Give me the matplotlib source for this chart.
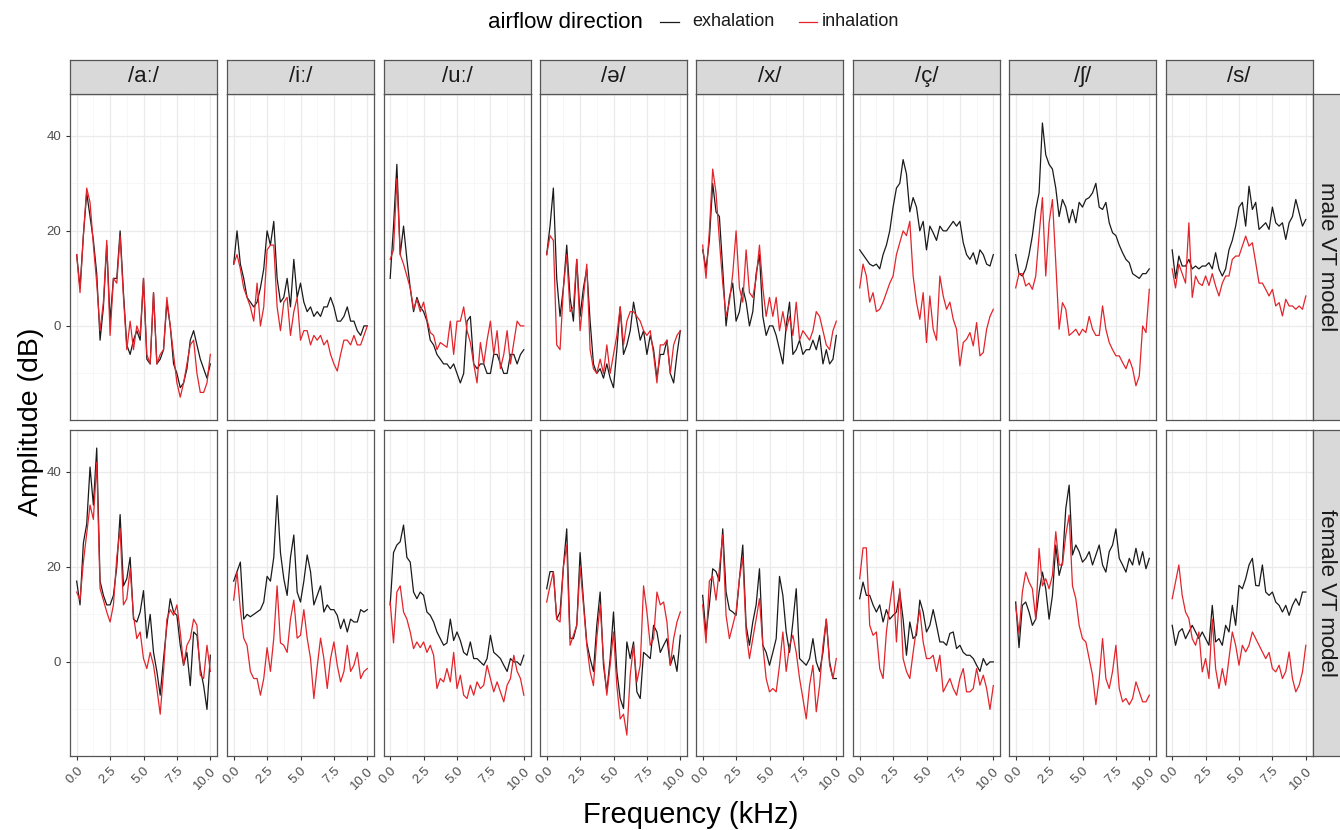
import numpy as np
import matplotlib
matplotlib.use('Agg')
import matplotlib.pyplot as plt
from matplotlib.lines import Line2D
from matplotlib.ticker import MultipleLocator

plt.rcParams['font.family'] = ['Liberation Sans', 'DejaVu Sans']

# frequency grid (kHz)
freq = np.linspace(0, 10, 41)

phonemes = ['/aː/', '/iː/', '/uː/', '/ə/', '/x/', '/ç/', '/ʃ/', '/s/']
models = ['male VT model', 'female VT model']

# male VT model, exhalation / inhalation (dB)
male_a_exh = [15, 8, 19, 28, 23, 18, 11, -3, 4, 17, 1, 10, 10, 20, 7, -4, -6, -3, -1, -3, 10, -7, -8, 7, -8, -7, -5, 5, 0, -8, -10, -13, -12, -9, -3, -1, -4, -7, -9, -11, -8]
male_a_inh = [15, 7, 19, 29, 26, 17, 9, -1, 5, 18, -2, 10, 9, 19, 6, -5, 1, -5, 0, -2, 10, -6, -8, 7, -8, -6, -5, 6, 0, -6, -12, -15, -12, -8, -4, -3, -10, -14, -14, -12, -6]
male_i_exh = [13, 20, 13, 10, 6, 5, 4, 5, 8, 12, 20, 17, 22, 10, 5, 6, 10, 4, 14, 6, 9, 5, 3, 4, 2, 3, 2, 4, 4, 6, 4, 1, 1, 2, 4, 1, 1, -1, -2, 0, 0]
male_i_inh = [13, 15, 12, 8, 6, 4, 1, 9, 0, 4, 16, 17, 17, 4, -1, 5, 6, -2, 3, 6, -3, -1, -1, -4, -2, -3, -2, -4, -3, -6, -8, -9.5, -6, -3, -3, -4, -2, -4, -4, -2, 0]
male_u_exh = [10, 21, 34, 15, 21, 14, 8, 3, 6, 4, 3, 1, -3, -4, -6, -7, -8, -8, -9, -8, -10, -12, -10, 1, 2, -8, -9, -8, -8, -10, -10, -6, -6, -8, -10, -10, -6, -6, -8, -6, -5]
male_u_inh = [14, 16, 31, 15, 13, 10.5, 8, 3.5, 5.6, 3, 5, 1.4, -1.4, -2, -5, -3.5, -4, -4.5, 1, -6, 1, 1, 4, -1, -3.5, -8, -12, -3.5, -8, -3, 1, -6, -1, -9, -6, -1, -8, -3.5, 1, 0, 0]
male_schwa_exh = [15, 21, 29, 10, 2, 8, 17, 6, 1, 14, 2, 8, 12, 1, -8, -10, -9, -11, -8, -11, -13, -5, 4, -6, -4, -1, 5, 1, -3, -1, -6, -2, -5, -11, -6, -6, -3, -10, -12, -6, -1]
male_schwa_inh = [15, 19, 18, -4, -5, 8, 15, 3, 4, 14, -1, 6, 13, -5, -9, -10, -7, -10, -4, -10, -6, -2, 4, -4, 1, 3, 3, 2, 1, -1, -2, -1, -6, -12, -4, -4, -3, -10, -4, -2, -1]
male_x_exh = [16, 12, 18, 30, 24, 23, 12, 0, 6, 9, 1, 3, 8, 5, 0, 3, 11, 15, 2, -2, 0, 0, -2, -5, -8, 0, 5, -6, -5, -3, -6, -5, -5, -3, -5, -2, -8, -5, -8, -7, -2]
male_x_inh = [17, 10, 20, 33, 28, 18, 9, 2, 5, 11, 20, 8, 5, 16, 7, 6, 10, 17, 8, 2, 6, 2, 6, -1, 3, -1, 2, -2, 5, -3, -1, -2, -3, -1, 3, 2, -1, -4, -5, -1, 1]
male_c_exh = [16, 15, 14, 13, 12.6, 13, 12, 15, 17, 20, 25, 29, 30, 35, 32, 24, 27, 25, 20, 22, 16, 21, 19.6, 18, 21, 20, 20, 21, 22, 21, 22, 17.5, 15, 14, 15.4, 13, 16, 15, 13, 12.6, 15]
male_c_inh = [8, 13, 10.5, 5, 7, 3, 3.5, 5, 7, 9, 10.5, 15, 17.5, 20, 19, 22, 10.5, 5, 1.4, 7, -3.5, 6.3, -0.7, -3, 10.5, 6.3, 3.5, 5, 1.4, -0.7, -8.4, -3.5, -2.8, -1.4, -4.2, 0.7, -6.3, -5.6, -0.7, 2, 3.5]
male_sh_exh = [15, 11, 10.5, 12, 15, 19, 24.5, 28, 42.7, 36, 34, 33, 29, 23, 26.6, 25, 21.7, 24.5, 21.7, 26, 25, 26.6, 27, 28, 30, 25, 24.5, 26, 21.7, 19.6, 19, 17, 15.4, 14, 13.3, 11, 10.5, 10, 11, 11, 12]
male_sh_inh = [8, 11, 11, 8.4, 9, 7.7, 10.5, 19, 27, 10.5, 21.7, 26.6, 13.3, -0.7, 4.9, 3.5, -2, -1.4, -0.7, -2, -0.7, -1.4, 2, -0.7, -2, -2, 4.2, -0.7, -3.5, -5, -6.3, -6.3, -7.7, -9, -7, -9, -12.6, -10.5, 0, -1.4, 7.7]
male_s_exh = [16, 10, 14.7, 12.6, 12.6, 14, 12, 12.6, 12, 12.6, 12.6, 13.3, 12, 15.4, 12, 10.5, 12, 16, 18, 21, 25, 26, 21, 29.4, 24.5, 26, 20.3, 21, 21.7, 20.3, 25, 21.7, 21, 21.7, 18.2, 21.7, 23, 26.6, 23.8, 21, 22.4]
male_s_inh = [12, 8, 13, 11, 9, 21.7, 6, 10.5, 9, 8.5, 10.5, 8.5, 11, 8.4, 6.3, 9, 10.5, 10.5, 14, 14.7, 14.7, 16.8, 18.9, 16.8, 17.5, 13.3, 9, 9, 7.7, 6.3, 7.7, 4.2, 4.9, 2.1, 5.6, 4.2, 4.2, 3.5, 4.2, 3.5, 6.3]

# female VT model, exhalation / inhalation (dB)
female_a_exh = [17, 12, 25, 29, 41, 33, 45, 17, 14, 12, 12, 14, 20, 31, 16, 17.5, 22, 9, 8.4, 10.5, 15, 5, 10, 2, -2, -7, 0.7, 7.7, 13.3, 10.5, 9.8, 3.5, -0.7, 2, -5, 6.3, 5.6, -1.4, -5, -10, 1.4]
female_a_inh = [14.7, 13, 21, 27, 33, 30, 42, 15.4, 13, 10.5, 8.4, 12, 22, 28, 12, 13.3, 19.6, 9.8, 4.9, 6.3, 0.7, -1.4, 2, -0.7, -5.6, -11, -2, 9, 11, 9.8, 12, 6.3, -0.7, 3.5, 4.9, 9, 7.7, -2.8, -3.5, 3.5, -2]
female_i_exh = [17, 19, 21, 9, 10, 9.5, 10, 10.5, 11, 12.6, 18, 17, 22, 35, 23, 17.5, 14, 22, 26.7, 14.7, 12.6, 17, 22.5, 19, 12, 14, 16, 10.5, 12, 11, 11, 9.8, 7, 9, 6.3, 9, 8.4, 8.4, 11, 10.5, 11]
female_i_inh = [13, 19, 11, 5, 3.5, -2, -3.5, -3.5, -7, -3.5, 3, -2, 5, 16, 4, 3.5, 2, 9, 13, 5, 5.6, 11, 5, 0.7, -7.7, -1, 5, 0.7, -5.6, 0.7, 4.2, -0.7, -4.2, -2, 3.5, -2, -0.7, 2, -3.5, -2, -1.4]
female_u_exh = [12, 23, 24.6, 25.3, 28.8, 22, 21, 14.7, 13.3, 14.7, 14, 10.5, 9.8, 8.4, 6.3, 4.9, 3.5, 4, 9, 4.5, 6.3, 4.5, 2, 1.4, 4.2, 0.7, 0.7, 0, -0.7, 0.7, 5.6, 2, 1.4, 0.7, -0.7, -2, 0.7, 0, 0, -0.7, 1.4]
female_u_inh = [12.6, 4, 14.7, 16, 10.5, 9, 6.3, 2.8, 4.2, 3, 4.2, 2, 3.5, 1.4, -5.6, -3.5, -4.2, -1.4, -4.2, 2, -5.6, -2.8, -7, -7.7, -4.9, -7, -4.2, -5.6, -4.9, -0.7, -3.5, -6.3, -4.2, -6.3, -8.4, -4.9, -3.5, 1.4, -2, -3.5, -7]
female_schwa_exh = [15.4, 19, 19, 9, 10.5, 20, 28, 5, 4.9, 7.7, 23, 13, 4, 0.7, -2, 7.7, 14.7, -0.7, -6.3, 0.7, 10.5, -2, -7.7, -9.8, 4.2, 0.7, 4.2, -6.3, -7.7, 2, 1.4, 0.7, 7.7, 6.3, 2, 3.5, 4.9, -0.7, 1.4, -2, 5.6]
female_schwa_inh = [12.6, 16, 19, 9, 8.4, 20, 24.6, 3.5, 5.6, 7.7, 20, 12, 3.5, -2, -5, 5, 12, 0.7, -7, -0.7, 6.3, -5, -12, -11, -15.4, -2.8, 3.5, -4.2, -0.7, 16, 10.5, 3.5, 4.9, 14.7, 12, 12.6, 8.4, -0.7, 4.9, 8.4, 10.5]
female_x_exh = [14, 6, 12, 19.6, 19, 17, 28, 14.7, 11, 10.5, 9.8, 17.5, 24.6, 7.7, 3.5, 8.4, 12, 19.6, 3.5, 2, -0.7, 2, 4.9, 18, 14, 6.3, 2, 8.4, 15.4, 0.7, 0, -0.7, 0.7, 4.9, 0, -2, 2, 9, 0, -3.5, -3.5]
female_x_inh = [12, 4, 17, 18, 13, 19.6, 26.7, 9.8, 4.9, 7.7, 10.5, 17.5, 22, 6.3, 0.7, 4.9, 9, 13.3, 3.5, -3.5, -6.3, -5.6, -6.3, -0.7, 6.3, -2, 3.5, 5.6, 2, -3.5, -7.7, -12, -4.9, -0.7, -10.5, -4.9, 3.5, 9, -0.7, -3.5, 0.7]
female_c_exh = [13.3, 16.8, 14, 14, 12, 10.5, 12, 8.4, 11, 9, 9.8, 10.5, 14.7, 9, 1.4, 8.4, 4.9, 5.6, 13, 10.5, 6.3, 7.7, 11, 7.7, 4.2, 4.2, 3.5, 6, 6.3, 2.8, 3.5, 2, 1.4, 1.4, 0.7, -0.7, -2, 0.7, -0.7, 0, 0]
female_c_inh = [17.5, 24, 24, 7.7, 5.6, 6.3, -1.4, -3.5, 6.3, 12, 17, 4.2, 15.4, 0.7, -2, -3.5, 2, 7, 11, 4.2, 0.7, 0.7, 1.4, -2, 1.4, -6.3, -4.9, -3.5, -5.6, -7, -3.5, -1.4, -6.3, -6.3, -5.6, -1.4, -4.9, -2.8, -5.6, -10, -5]
female_sh_exh = [12.6, 3, 11.9, 12.6, 10.5, 7.7, 9, 14.7, 18.9, 15.4, 9, 14, 24.6, 18.2, 21, 32.3, 37.2, 22.5, 24.6, 23.2, 21, 21.8, 23.2, 20.4, 22.5, 24.6, 20.4, 18.9, 23.2, 24.6, 28, 21.8, 20.4, 18.9, 21.8, 20.4, 23.9, 20.4, 23.2, 19.6, 21.8]
female_sh_inh = [11.9, 6, 14.7, 18.9, 16.8, 15.4, 9, 23.9, 16, 17.5, 15.4, 18.2, 27.4, 20.4, 20.4, 26.7, 30.9, 16, 13.3, 7.7, 4.9, 4.2, 0.7, -2.8, -9, -3.5, 4.9, -3.5, -5.6, -2, 3.5, -5.6, -8.4, -7.7, -9, -7.7, -4.2, -6.3, -8.4, -8.4, -7]
female_s_exh = [7.7, 3.5, 6.3, 7, 4.9, 6.3, 7.7, 6.3, 4.9, 6.3, 4.9, 3.5, 11.9, 4.2, 4.9, 3.5, 7.7, 6.3, 11.9, 7.7, 16.1, 15.4, 17.5, 20.4, 21.8, 16.1, 16, 20.4, 14.7, 14, 14.7, 12.6, 11.9, 10.5, 11.9, 9.8, 11.9, 13.3, 11.9, 14.7, 14.7]
female_s_inh = [13.3, 16.8, 20.4, 14, 10.5, 9.1, 4.9, 3.5, 6.3, -2.1, 0.7, -3.5, 9, -1.4, -5.6, -1.4, -4.9, 0.7, 6.3, 3.5, -0.7, 3.5, 2.1, 3.5, 6.3, 4.9, 3.5, 2.1, 0.7, 2, -1.4, -2.1, -0.7, -3.5, -2, 2.1, -3.5, -6.3, -4.9, -2.1, 3.5]

exh = [
    [male_a_exh, male_i_exh, male_u_exh, male_schwa_exh, male_x_exh, male_c_exh, male_sh_exh, male_s_exh],
    [female_a_exh, female_i_exh, female_u_exh, female_schwa_exh, female_x_exh, female_c_exh, female_sh_exh, female_s_exh],
]
inh = [
    [male_a_inh, male_i_inh, male_u_inh, male_schwa_inh, male_x_inh, male_c_inh, male_sh_inh, male_s_inh],
    [female_a_inh, female_i_inh, female_u_inh, female_schwa_inh, female_x_inh, female_c_inh, female_sh_inh, female_s_inh],
]

W, H = 1340, 830
col_left = [70, 227, 383.5, 540, 696, 853, 1009, 1165.5]
row_top = [94, 430]
pw, ph = 147, 326
border = '#555555'
strip_fill = '#D9D9D9'
exh_col = '#1a1a1a'
inh_col = '#e3242b'


def fig_rect(x, y, w, h):
    # pixel box (top-left origin) -> figure fraction
    return [x / W, 1 - (y + h) / H, w / W, h / H]


fig = plt.figure(figsize=(W / 100, H / 100), dpi=100)

for r in range(2):
    for c in range(8):
        ax = fig.add_axes(fig_rect(col_left[c], row_top[r], pw, ph))
        ax.plot(freq, exh[r][c], color=exh_col, lw=0.9, zorder=3)
        ax.plot(freq, inh[r][c], color=inh_col, lw=0.9, zorder=4)
        ax.set_xlim(-0.5, 10.5)
        ax.set_ylim(-19.8, 48.8)
        ax.xaxis.set_major_locator(MultipleLocator(2.5))
        ax.xaxis.set_minor_locator(MultipleLocator(1.25))
        ax.yaxis.set_major_locator(MultipleLocator(20))
        ax.yaxis.set_minor_locator(MultipleLocator(10))
        ax.grid(which='major', color='#EBEBEB', lw=0.9)
        ax.grid(which='minor', color='#F4F4F4', lw=0.5)
        ax.set_axisbelow(True)
        for s in ax.spines.values():
            s.set_color(border)
            s.set_linewidth(0.9)
        ax.tick_params(which='minor', length=0)
        ax.tick_params(which='major', length=3, color='#333333', labelcolor='#4D4D4D', labelsize=9.5)
        if c == 0:
            ax.set_yticks([0, 20, 40])
        else:
            ax.tick_params(axis='y', left=False, labelleft=False)
        if r == 1:
            ax.set_xticks([0, 2.5, 5, 7.5, 10])
            ax.set_xticklabels(['0.0', '2.5', '5.0', '7.5', '10.0'], rotation=45,
                               ha='right', va='top', rotation_mode='anchor')
        else:
            ax.tick_params(axis='x', bottom=False, labelbottom=False)

        # column strip
        if r == 0:
            sax = fig.add_axes(fig_rect(col_left[c], 60, pw, 34))
            sax.set_facecolor(strip_fill)
            sax.set_xticks([])
            sax.set_yticks([])
            for s in sax.spines.values():
                s.set_color(border)
                s.set_linewidth(0.9)
            sax.text(0.5, 0.5, phonemes[c], ha='center', va='center', fontsize=16,
                     color='#1a1a1a', transform=sax.transAxes)

    # row strip
    rax = fig.add_axes(fig_rect(1312.5, row_top[r], 30, ph))
    rax.set_facecolor(strip_fill)
    rax.set_xticks([])
    rax.set_yticks([])
    for s in rax.spines.values():
        s.set_color(border)
        s.set_linewidth(0.9)
    rax.text(14 / 30, 0.5, models[r], rotation=-90, ha='center', va='center', fontsize=16,
             color='#1a1a1a', transform=rax.transAxes)

# axis titles
fig.text(31 / W, 1 - 422 / H, 'Amplitude (dB)', rotation=90, ha='center', va='center', fontsize=20.5)
fig.text(691 / W, 1 - 815 / H, 'Frequency (kHz)', ha='center', va='center', fontsize=21)

# legend
fig.text(488 / W, 1 - 22 / H, 'airflow direction', ha='left', va='center', fontsize=16)
fig.add_artist(Line2D([660 / W, 679 / W], [1 - 22 / H, 1 - 22 / H], color=exh_col, lw=0.9))
fig.text(692 / W, 1 - 22 / H, 'exhalation', ha='left', va='center', fontsize=13, color='#1a1a1a')
fig.add_artist(Line2D([799 / W, 817 / W], [1 - 22 / H, 1 - 22 / H], color=inh_col, lw=0.9))
fig.text(822 / W, 1 - 22 / H, 'inhalation', ha='left', va='center', fontsize=13, color='#1a1a1a')

plt.savefig('out.png', dpi=100)
plt.close()
